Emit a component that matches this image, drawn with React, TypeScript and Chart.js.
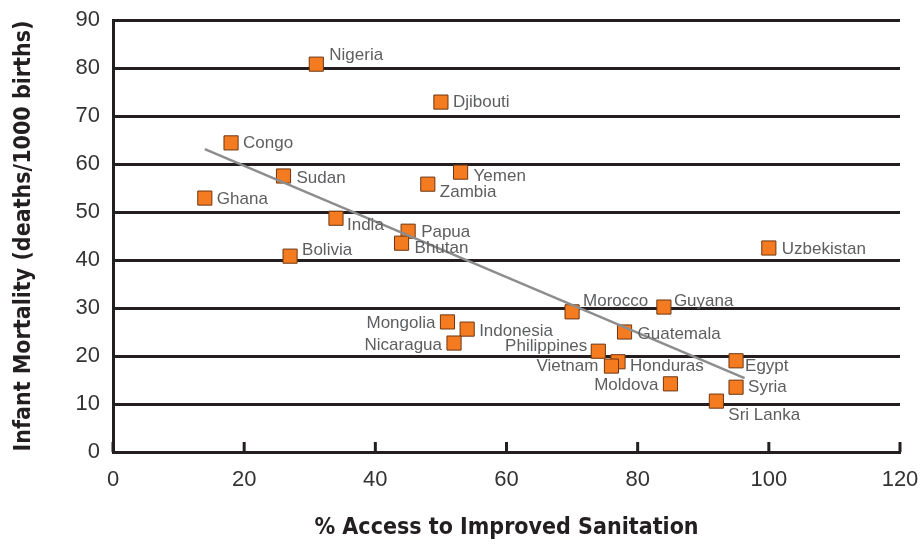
import React, { useEffect, useRef } from "react";
import { Chart, registerables } from "chart.js";

Chart.register(...registerables);

const countries = [
  "Nigeria", "Djibouti", "Congo", "Sudan", "Ghana", "Yemen", "Zambia", "India",
  "Papua", "Bhutan", "Bolivia", "Uzbekistan", "Morocco", "Guyana", "Mongolia",
  "Indonesia", "Nicaragua", "Guatemala", "Philippines", "Honduras", "Vietnam",
  "Moldova", "Egypt", "Syria", "Sri Lanka",
];
const sanitation = [31, 50, 18, 26, 14, 53, 48, 34, 45, 44, 27, 100, 70, 84, 51, 54, 52, 78, 74, 77, 76, 85, 95, 95, 92];
const mortality = [80.8, 72.9, 64.4, 57.5, 52.9, 58.3, 55.8, 48.7, 46, 43.5, 40.8, 42.5, 29.2, 30.2, 27.1, 25.6, 22.7, 25, 21, 18.8, 17.9, 14.2, 19, 13.5, 10.6];
const trendX = [14, 96.3];
const trendY = [63.1, 15.4];
const xTitle = "% Access to Improved Sanitation";
const yTitle = "Infant Mortality (deaths/1000 births)";

// label placement relative to the marker: [dx, dy, align]
const labelPlacement: [number, number, CanvasTextAlign][] = [
  [13, -9, "left"], [12, 0, "left"], [12, 0, "left"], [13, 2, "left"], [12, 1, "left"],
  [13, 4, "left"], [12, 8, "left"], [11, 7, "left"], [13, 1, "left"], [13, 5, "left"],
  [12, -6, "left"], [13, 1, "left"], [11, -11, "left"], [10, -6, "left"], [-12, 1, "right"],
  [12, 2, "left"], [-12, 2, "right"], [13, 2, "left"], [-11, -5, "right"], [12, 5, "left"],
  [-13, 0, "right"], [-12, 1, "right"], [9, 6, "left"], [12, 0, "left"], [12, 14, "left"],
];

const INK = "#231f20";

const pointLabels = {
  id: "pointLabels",
  afterDatasetsDraw(chart: any) {
    const meta = chart.getDatasetMeta(1);
    const ctx = chart.ctx;
    ctx.save();
    ctx.font = "17px 'Liberation Sans', Arial, sans-serif";
    ctx.fillStyle = "#5d5e60";
    ctx.textBaseline = "middle";
    meta.data.forEach((el: any, i: number) => {
      const [dx, dy, align] = labelPlacement[i];
      ctx.textAlign = align;
      ctx.fillText(countries[i], el.x + dx, el.y + dy);
    });
    ctx.restore();
  },
};

const innerTicks = {
  id: "innerTicks",
  afterDraw(chart: any) {
    const xs = chart.scales.x;
    const ctx = chart.ctx;
    const bottom = chart.chartArea.bottom;
    ctx.save();
    ctx.strokeStyle = INK;
    ctx.lineWidth = 3;
    xs.ticks.forEach((t: any) => {
      const px = xs.getPixelForValue(t.value);
      ctx.beginPath();
      ctx.moveTo(px, bottom);
      ctx.lineTo(px, bottom - 10);
      ctx.stroke();
    });
    ctx.restore();
  },
};

const zeroPad = (s: any) => {
  s.paddingTop = 0;
  s.paddingBottom = 0;
  s.paddingLeft = 0;
  s.paddingRight = 0;
};

export default function App() {
  const ref = useRef<HTMLCanvasElement>(null);
  useEffect(() => {
    document.body.style.margin = "0";
    const chart = new Chart(ref.current!, {
      type: "scatter",
      data: {
        datasets: [
          {
            type: "line",
            label: "trend",
            data: trendX.map((x, i) => ({ x, y: trendY[i] })),
            borderColor: "#8d8d8d",
            borderWidth: 2.5,
            pointRadius: 0,
            fill: false,
          } as any,
          {
            label: "countries",
            data: sanitation.map((x, i) => ({ x, y: mortality[i] })),
            pointStyle: "rect",
            pointRadius: 10,
            backgroundColor: "#f47b20",
            borderColor: "#6e3712",
            borderWidth: 1,
          },
        ],
      },
      options: {
        responsive: false,
        animation: false,
        layout: { padding: { left: 0, right: 22, top: 20, bottom: 0 } },
        plugins: { legend: { display: false }, tooltip: { enabled: false } },
        scales: {
          x: {
            type: "linear",
            min: 0,
            max: 120,
            afterFit: (s: any) => { s.height = 94; zeroPad(s); },
            ticks: { stepSize: 20, color: "#333", padding: 7, font: { family: "'Liberation Sans', Arial, sans-serif", size: 22 } },
            grid: { display: false },
            border: { display: true, color: INK, width: 3 },
            title: {
              display: true,
              text: xTitle,
              color: INK,
              padding: { top: 0, bottom: 4 },
              font: { family: "'DejaVu Sans Condensed', 'DejaVu Sans', sans-serif", weight: "bold", size: 23 },
            },
          },
          y: {
            type: "linear",
            min: 0,
            max: 90,
            afterFit: (s: any) => { s.width = 113; zeroPad(s); },
            ticks: { stepSize: 10, color: "#333", padding: 13, font: { family: "'Liberation Sans', Arial, sans-serif", size: 22 } },
            grid: { color: INK, lineWidth: 3, drawTicks: false },
            border: { display: true, color: INK, width: 3 },
            title: {
              display: true,
              text: yTitle,
              color: INK,
              padding: { top: 10, bottom: 0 },
              font: { family: "'DejaVu Sans Condensed', 'DejaVu Sans', sans-serif", weight: "bold", size: 23 },
            },
          },
        },
      },
      plugins: [pointLabels, innerTicks],
    });
    return () => chart.destroy();
  }, []);
  return (
    <div style={{ position: "absolute", left: 0, top: 0, width: 922, height: 546 }}>
      <canvas ref={ref} width={922} height={546} />
    </div>
  );
}
